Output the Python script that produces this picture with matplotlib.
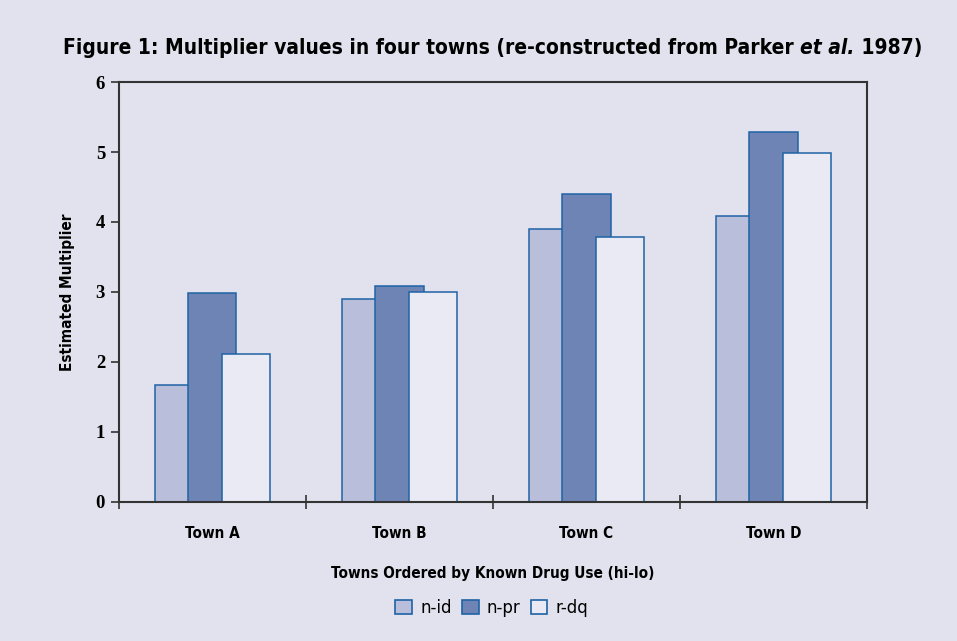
import numpy as np
import matplotlib.pyplot as plt
from matplotlib.patches import Patch

towns = ['Town A', 'Town B', 'Town C', 'Town D']
n_id = [1.67, 2.90, 3.90, 4.08]
n_pr = [2.98, 3.09, 4.40, 5.29]
r_dq = [2.12, 3.00, 3.78, 4.99]
series = ['n-id', 'n-pr', 'r-dq']

bg = '#e2e2ee'
edge = '#1f63a5'
colors = ['#b9bfdb', '#6e84b5', '#eaeaf4']
cond = dict(family='DejaVu Sans', fontstretch='condensed', fontweight='bold')

fig = plt.figure(figsize=(9.57, 6.41), dpi=100, facecolor=bg)
ax = fig.add_axes([0.1243, 0.217, 0.7817, 0.655], facecolor=bg)

x = np.arange(len(towns)) + 0.5
width = 0.257
offsets = [-0.18, 0.0, 0.18]
for vals, off, col, name in zip([n_id, n_pr, r_dq], offsets, colors, series):
    ax.bar(x + off, vals, width, color=col, edgecolor=edge, linewidth=1.1,
           label=name, zorder=2)

ax.set_xlim(0, 4)
ax.set_ylim(0, 6)
ax.set_yticks(range(7))
ax.set_xticks(x)
ax.set_xticklabels(towns, fontsize=11, **cond)
ax.set_xticks(np.arange(5), minor=True)
ax.tick_params(axis='x', which='major', length=0, pad=17)
ax.tick_params(axis='x', which='minor', length=10, direction='inout', width=1.2,
               color='#333333')
ax.tick_params(axis='y', length=6, direction='out', width=1.2, color='#333333', pad=4)
for lab in ax.get_yticklabels():
    lab.set_fontfamily('Liberation Serif')
    lab.set_fontweight('bold')
    lab.set_fontsize(13.5)
for s in ax.spines.values():
    s.set_color('#333333')
    s.set_linewidth(1.5)

ax.set_ylabel('Estimated Multiplier', fontsize=11, labelpad=15, **cond)
ax.set_xlabel('Towns Ordered by Known Drug Use (hi-lo)', fontsize=11,
              labelpad=18, **cond)

handles = [Patch(facecolor=c, edgecolor=edge, linewidth=1.2) for c in colors]
fig.legend(handles, series, loc='center', bbox_to_anchor=(0.514, 0.052), ncol=3,
           frameon=False, fontsize=12, handlelength=1.0, handleheight=1.0,
           handletextpad=0.5, columnspacing=0.6)

title_kw = dict(fontsize=15, **cond)
ty = 0.915
t1 = fig.text(0.066, ty, 'Figure 1: Multiplier values in four towns (re-constructed from Parker ',
              va='baseline', ha='left', **title_kw)
t2 = fig.text(0, 0, 'et al.', va='baseline', ha='left', style='italic', **title_kw)
fig.canvas.draw()
r = fig.canvas.get_renderer()
bb = t1.get_window_extent(r)
t2.set_position((bb.x1 / fig.bbox.width, ty))
bb2 = t2.get_window_extent(r)
fig.text(bb2.x1 / fig.bbox.width, ty, ' 1987)', va='baseline', ha='left', **title_kw)

fig.savefig('out.png', dpi=100, facecolor=bg)
